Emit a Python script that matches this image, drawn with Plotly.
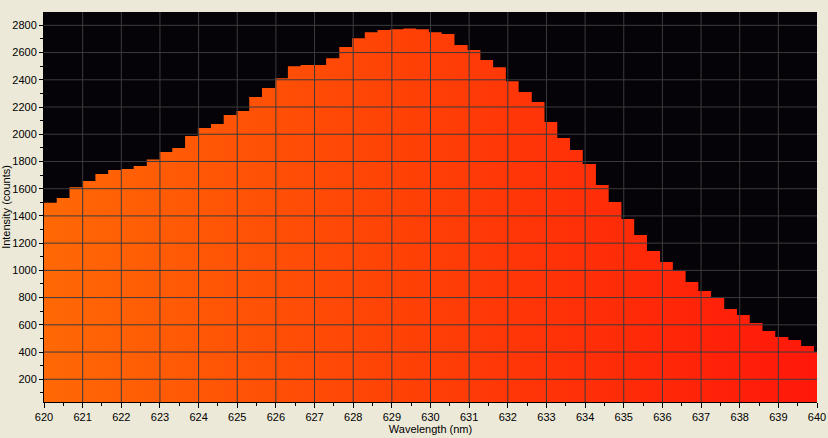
import plotly.graph_objects as go

# Step left edges (nm) and intensities (counts)
wavelength = [620.00, 620.33, 620.66, 621.00, 621.33, 621.66, 621.99, 622.32, 622.66, 622.99,
              623.32, 623.65, 623.98, 624.32, 624.65, 624.98, 625.31, 625.64, 625.98, 626.31,
              626.64, 626.97, 627.30, 627.64, 627.97, 628.30, 628.63, 628.96, 629.30, 629.63,
              629.96, 630.29, 630.62, 630.96, 631.29, 631.62, 631.95, 632.28, 632.62, 632.95,
              633.28, 633.61, 633.94, 634.28, 634.61, 634.94, 635.27, 635.60, 635.94, 636.27,
              636.60, 636.93, 637.26, 637.60, 637.93, 638.26, 638.59, 638.92, 639.26, 639.59,
              639.92, 640.25]
intensity = [1497, 1531, 1610, 1656, 1708, 1737, 1744, 1766, 1815, 1869,
             1899, 1987, 2045, 2075, 2141, 2170, 2273, 2339, 2412, 2500,
             2508, 2508, 2559, 2640, 2706, 2750, 2765, 2772, 2776, 2772,
             2750, 2736, 2655, 2618, 2545, 2493, 2390, 2310, 2236, 2090,
             1972, 1884, 1781, 1627, 1502, 1377, 1259, 1142, 1061, 997,
             914, 848, 797, 716, 672, 613, 554, 510, 488, 444,
             400, 360]

x_ticks = list(range(620, 641))
y_ticks = list(range(200, 2801, 200))
x_range = [620, 640]
y_range = [33, 2898]

grid_color = "#3b3b3d"
font = dict(family="Liberation Sans, Arial, sans-serif", size=11, color="#000000")

fig = go.Figure()
fig.add_trace(go.Scatter(
    x=wavelength, y=intensity, mode="lines", line=dict(shape="hv", width=0),
    fill="tozeroy",
    fillgradient=dict(type="horizontal",
                      colorscale=[[0, "#ff6805"], [0.5, "#ff3e06"], [1, "#ff170a"]]),
    hoverinfo="x+y", showlegend=False,
))

shapes = []
for xv in x_ticks[1:-1]:
    shapes.append(dict(type="line", xref="x", yref="paper", x0=xv, x1=xv, y0=0, y1=1,
                       line=dict(color=grid_color, width=1), layer="above"))
for yv in y_ticks:
    shapes.append(dict(type="line", xref="paper", yref="y", x0=0, x1=1, y0=yv, y1=yv,
                       line=dict(color=grid_color, width=1), layer="above"))

fig.update_layout(
    width=828, height=438,
    margin=dict(l=44, r=11, t=12, b=36, autoexpand=False),
    paper_bgcolor="#ece9d8", plot_bgcolor="#050307",
    font=font, shapes=shapes,
    xaxis=dict(range=x_range, tickvals=x_ticks, ticktext=[str(v) for v in x_ticks],
               showgrid=False, zeroline=False, showline=True, linecolor="#000000", linewidth=1,
               ticks="outside", ticklen=5, tickcolor="#000000", automargin=False,
               minor=dict(dtick=0.5, ticks="outside", ticklen=3, tickcolor="#000000", showgrid=False),
               title=dict(text="Wavelength (nm)", font=font, standoff=0),
               layer="above traces"),
    yaxis=dict(range=y_range, tickvals=y_ticks, ticktext=[str(v) for v in y_ticks],
               showgrid=False, zeroline=False, showline=True, linecolor="#000000", linewidth=1,
               ticks="outside", ticklen=4, tickcolor="#000000", automargin=False,
               minor=dict(tickvals=list(range(100, 2900, 100)), ticks="outside", ticklen=3,
                          tickcolor="#000000", showgrid=False),
               title=dict(text="Intensity (counts)", font=font, standoff=6),
               layer="above traces"),
)

fig.write_html("out.html", config={"displayModeBar": False},
               post_script="document.body.style.margin='0';document.body.style.overflow='hidden';")
